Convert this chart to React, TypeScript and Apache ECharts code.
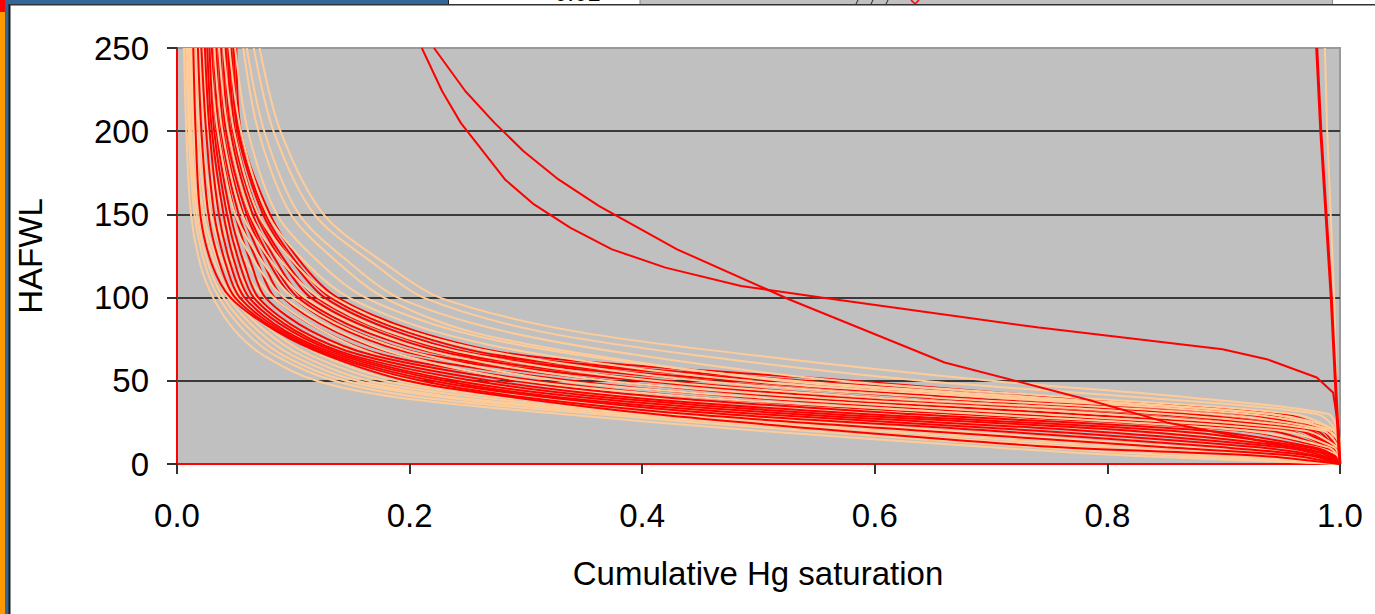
import React, { useEffect, useRef } from "react";
import * as echarts from "echarts";

// HAFWL levels shared by the regular capillary-pressure curves
const HAFWL_LEVELS = [250, 200, 150, 120, 100, 80, 65, 50, 40, 30, 20, 10, 5, 0];

// Cumulative Hg saturation of each red sample at the HAFWL levels
const RED_CURVES: number[][] = [
  [0.051, 0.055, 0.080, 0.108, 0.138, 0.205, 0.300, 0.580, 0.760, 0.950, 0.992, 0.998, 1.0, 1.0],
  [0.049, 0.053, 0.076, 0.104, 0.132, 0.195, 0.280, 0.540, 0.730, 0.930, 0.988, 0.997, 1.0, 1.0],
  [0.047, 0.052, 0.074, 0.101, 0.127, 0.187, 0.268, 0.515, 0.705, 0.915, 0.985, 0.996, 1.0, 1.0],
  [0.045, 0.050, 0.070, 0.095, 0.120, 0.178, 0.255, 0.480, 0.670, 0.890, 0.980, 0.995, 1.0, 1.0],
  [0.044, 0.048, 0.068, 0.092, 0.115, 0.171, 0.246, 0.455, 0.640, 0.870, 0.975, 0.994, 1.0, 1.0],
  [0.042, 0.046, 0.065, 0.087, 0.108, 0.160, 0.235, 0.420, 0.600, 0.840, 0.970, 0.993, 1.0, 1.0],
  [0.040, 0.044, 0.062, 0.083, 0.104, 0.152, 0.220, 0.400, 0.570, 0.810, 0.965, 0.992, 1.0, 1.0],
  [0.038, 0.042, 0.060, 0.080, 0.100, 0.146, 0.212, 0.372, 0.530, 0.770, 0.955, 0.990, 1.0, 1.0],
  [0.036, 0.040, 0.057, 0.075, 0.091, 0.135, 0.195, 0.340, 0.490, 0.720, 0.940, 0.988, 1.0, 1.0],
  [0.034, 0.038, 0.053, 0.070, 0.084, 0.125, 0.180, 0.310, 0.450, 0.670, 0.915, 0.985, 0.997, 1.0],
  [0.032, 0.036, 0.050, 0.064, 0.076, 0.115, 0.170, 0.290, 0.420, 0.630, 0.885, 0.978, 0.995, 1.0],
  [0.030, 0.034, 0.046, 0.058, 0.070, 0.107, 0.160, 0.270, 0.390, 0.590, 0.855, 0.972, 0.993, 1.0],
  [0.028, 0.032, 0.043, 0.054, 0.066, 0.102, 0.152, 0.255, 0.370, 0.560, 0.820, 0.962, 0.990, 1.0],
  [0.026, 0.030, 0.040, 0.050, 0.062, 0.098, 0.147, 0.240, 0.350, 0.530, 0.780, 0.950, 0.985, 1.0],
  [0.024, 0.028, 0.036, 0.046, 0.058, 0.093, 0.142, 0.230, 0.330, 0.500, 0.740, 0.930, 0.980, 1.0],
  [0.021, 0.025, 0.032, 0.042, 0.054, 0.090, 0.137, 0.220, 0.320, 0.470, 0.700, 0.900, 0.975, 1.0],
  [0.018, 0.021, 0.027, 0.037, 0.050, 0.087, 0.133, 0.210, 0.300, 0.440, 0.640, 0.850, 0.960, 1.0],
  [0.014, 0.016, 0.020, 0.030, 0.046, 0.085, 0.130, 0.198, 0.290, 0.410, 0.570, 0.760, 0.930, 1.0],
];

// Cumulative Hg saturation of each peach sample at the HAFWL levels
const PEACH_CURVES: number[][] = [
  [0.006, 0.008, 0.012, 0.020, 0.031, 0.050, 0.075, 0.120, 0.190, 0.330, 0.500, 0.700, 0.820, 1.0],
  [0.008, 0.010, 0.015, 0.024, 0.036, 0.058, 0.085, 0.135, 0.210, 0.360, 0.540, 0.740, 0.860, 1.0],
  [0.009, 0.011, 0.017, 0.027, 0.040, 0.064, 0.092, 0.145, 0.230, 0.380, 0.570, 0.780, 0.890, 1.0],
  [0.010, 0.012, 0.019, 0.030, 0.044, 0.070, 0.100, 0.155, 0.240, 0.400, 0.600, 0.810, 0.920, 1.0],
  [0.011, 0.014, 0.021, 0.033, 0.048, 0.076, 0.108, 0.165, 0.260, 0.420, 0.630, 0.840, 0.940, 1.0],
  [0.012, 0.015, 0.023, 0.036, 0.052, 0.082, 0.116, 0.178, 0.280, 0.450, 0.660, 0.870, 0.950, 1.0],
  [0.013, 0.017, 0.026, 0.040, 0.057, 0.090, 0.125, 0.190, 0.300, 0.480, 0.700, 0.900, 0.970, 1.0],
  [0.015, 0.019, 0.029, 0.044, 0.062, 0.097, 0.135, 0.205, 0.320, 0.520, 0.740, 0.920, 0.980, 1.0],
  [0.017, 0.021, 0.032, 0.049, 0.068, 0.105, 0.148, 0.225, 0.350, 0.560, 0.790, 0.950, 0.990, 1.0],
  [0.019, 0.024, 0.036, 0.055, 0.075, 0.115, 0.160, 0.245, 0.380, 0.600, 0.840, 0.970, 0.995, 1.0],
  [0.022, 0.027, 0.040, 0.061, 0.083, 0.125, 0.175, 0.270, 0.410, 0.640, 0.880, 0.980, 0.998, 1.0],
  [0.025, 0.031, 0.045, 0.068, 0.092, 0.138, 0.195, 0.300, 0.450, 0.690, 0.920, 0.990, 0.998, 1.0],
  [0.028, 0.035, 0.050, 0.075, 0.100, 0.150, 0.215, 0.330, 0.500, 0.740, 0.950, 0.995, 0.999, 1.0],
  [0.032, 0.039, 0.056, 0.083, 0.110, 0.165, 0.235, 0.370, 0.550, 0.800, 0.970, 0.998, 1.0, 1.0],
  [0.036, 0.044, 0.063, 0.092, 0.122, 0.180, 0.260, 0.410, 0.600, 0.850, 0.985, 0.999, 1.0, 1.0],
  [0.040, 0.049, 0.070, 0.102, 0.135, 0.200, 0.290, 0.450, 0.650, 0.890, 0.990, 1.0, 1.0, 1.0],
  [0.045, 0.055, 0.078, 0.112, 0.148, 0.220, 0.320, 0.490, 0.700, 0.920, 0.995, 1.0, 1.0, 1.0],
  [0.050, 0.061, 0.086, 0.124, 0.162, 0.240, 0.350, 0.530, 0.740, 0.940, 0.997, 1.0, 1.0, 1.0],
  [0.057, 0.070, 0.098, 0.140, 0.178, 0.250, 0.360, 0.520, 0.720, 0.940, 0.990, 1.0, 1.0, 1.0],
  [0.060, 0.075, 0.105, 0.150, 0.190, 0.280, 0.400, 0.570, 0.770, 0.960, 0.995, 1.0, 1.0, 1.0],
  [0.066, 0.083, 0.118, 0.170, 0.212, 0.310, 0.450, 0.640, 0.830, 0.980, 0.997, 1.0, 1.0, 1.0],
  [0.071, 0.089, 0.126, 0.180, 0.226, 0.340, 0.500, 0.700, 0.870, 0.990, 0.998, 1.0, 1.0, 1.0],
];

// Two red samples with a high entry pressure
const RED_FLAT_SAT = [0.2105, 0.228, 0.244, 0.282, 0.307, 0.338, 0.374, 0.42, 0.485, 0.554, 0.741, 0.899, 0.937, 0.98, 0.994, 0.999, 1.0];
const RED_FLAT_HAFWL = [250, 224, 205, 171, 156, 142, 129, 118, 107, 100, 82, 69, 63, 52, 43, 20, 0];
const RED_DIAG_SAT = [0.221, 0.248, 0.273, 0.298, 0.328, 0.363, 0.43, 0.507, 0.526, 0.66, 0.784, 0.851, 0.985, 1.0];
const RED_DIAG_HAFWL = [250, 224, 205, 188, 171, 155, 129, 105, 99, 61, 38.5, 25, 6.6, 0];

// Tight samples near full saturation
const RED_TIGHT_SAT = [0.980, 0.9835, 0.988, 0.9925, 0.996, 0.999, 1.0];
const RED_TIGHT_HAFWL = [250, 200, 150, 100, 50, 10, 0];
const PEACH_TIGHT_SAT = [0.987, 0.989, 0.992, 0.995, 0.997, 1.0];
const PEACH_TIGHT_HAFWL = [250, 200, 150, 100, 40, 0];

const X_TICK_LABELS = ["0.0", "0.2", "0.4", "0.6", "0.8", "1.0"];
const Y_TICK_LABELS = ["0", "50", "100", "150", "200", "250"];

const RED = "#FF0000";
const PEACH = "#FFCC99";
const FONT = "'Liberation Sans', Arial, sans-serif";

const pairs = (xs: number[], ys: number[]) => xs.map((x, i) => [x, ys[i]]);

export default function App() {
  const ref = useRef<HTMLDivElement>(null);
  useEffect(() => {
    if (!ref.current) return;
    const chart = echarts.init(ref.current, undefined, { renderer: "svg" });
    const line = (data: number[][], color: string, width: number, smooth: number) => ({
      type: "line",
      data,
      symbol: "none",
      showSymbol: false,
      silent: true,
      clip: true,
      smooth,
      lineStyle: { color, width },
      itemStyle: { color },
    });
    const series: any[] = [];
    const n = Math.max(RED_CURVES.length, PEACH_CURVES.length);
    for (let i = 0; i < n; i++) {
      if (PEACH_CURVES[i]) series.push(line(pairs(PEACH_CURVES[i], HAFWL_LEVELS), PEACH, 2, 0.3));
      if (RED_CURVES[i]) series.push(line(pairs(RED_CURVES[i], HAFWL_LEVELS), RED, 2, 0.3));
    }
    series.push(line(pairs(PEACH_TIGHT_SAT, PEACH_TIGHT_HAFWL), PEACH, 2, 0));
    series.push(line(pairs(RED_TIGHT_SAT, RED_TIGHT_HAFWL), RED, 3, 0));
    series.push(line(pairs(RED_FLAT_SAT, RED_FLAT_HAFWL), RED, 2, 0));
    series.push(line(pairs(RED_DIAG_SAT, RED_DIAG_HAFWL), RED, 2, 0));

    chart.setOption({
      animation: false,
      backgroundColor: "#ffffff",
      grid: {
        left: 177,
        right: 35,
        top: 48,
        bottom: 150,
        show: true,
        backgroundColor: "#C0C0C0",
        borderColor: "#999999",
        borderWidth: 2,
      },
      xAxis: {
        type: "value",
        min: 0,
        max: 1,
        interval: 0.2,
        axisLine: { show: true, onZero: false, lineStyle: { color: RED, width: 2 } },
        axisTick: { show: true, length: 10, lineStyle: { color: "#333333", width: 2 } },
        axisLabel: {
          fontSize: 33,
          fontFamily: FONT,
          color: "#000",
          margin: 35,
          formatter: (v: number) => X_TICK_LABELS[Math.round(v / 0.2)] ?? "",
        },
        splitLine: { show: false },
      },
      yAxis: {
        type: "value",
        min: 0,
        max: 250,
        interval: 50,
        axisLine: { show: true, onZero: false, lineStyle: { color: RED, width: 2 } },
        axisTick: { show: true, length: 10, lineStyle: { color: "#333333", width: 2 } },
        axisLabel: {
          fontSize: 33,
          fontFamily: FONT,
          color: "#000",
          margin: 28,
          formatter: (v: number) => Y_TICK_LABELS[Math.round(v / 50)] ?? "",
        },
        splitLine: {
          show: true,
          lineStyle: { color: ["#333333", "#3a3a3a", "#3a3a3a", "#3a3a3a", "#3a3a3a", "#999999"], width: 2 },
        },
      },
      graphic: [
        { type: "rect", shape: { x: 0, y: 0, width: 5, height: 614 }, style: { fill: "#FF9900" }, z: 100 },
        { type: "rect", shape: { x: 0, y: 0, width: 5, height: 12 }, style: { fill: "#FF0000" }, z: 101 },
        { type: "rect", shape: { x: 5, y: 0, width: 4, height: 614 }, style: { fill: "#336699" }, z: 100 },
        { type: "rect", shape: { x: 8.5, y: 4, width: 2, height: 610 }, style: { fill: "#1a1a1a" }, z: 101 },
        { type: "rect", shape: { x: 9, y: 0, width: 439, height: 4 }, style: { fill: "#336699" }, z: 100 },
        { type: "rect", shape: { x: 448, y: 0, width: 192, height: 4 }, style: { fill: "#ffffff" }, z: 100 },
        { type: "rect", shape: { x: 448, y: 0, width: 1, height: 4 }, style: { fill: "#222222" }, z: 102 },
        { type: "rect", shape: { x: 640, y: 0, width: 692, height: 4 }, style: { fill: "#C0C0C0" }, z: 100 },
        { type: "rect", shape: { x: 639.5, y: 0, width: 1, height: 4 }, style: { fill: "#888888" }, z: 102 },
        { type: "rect", shape: { x: 1332, y: 0, width: 1, height: 4 }, style: { fill: "#888888" }, z: 102 },
        {
          type: "text",
          x: 554,
          y: 4,
          z: 101,
          style: { text: "0.01", font: `24px ${FONT}`, fill: "#000", textAlign: "left", textVerticalAlign: "bottom" },
        },
        { type: "line", shape: { x1: 856, y1: 4, x2: 858, y2: 0 }, style: { stroke: "#222", lineWidth: 1 }, z: 101 },
        { type: "line", shape: { x1: 871, y1: 4, x2: 873, y2: 0 }, style: { stroke: "#222", lineWidth: 1 }, z: 101 },
        { type: "line", shape: { x1: 886, y1: 4, x2: 888, y2: 0 }, style: { stroke: "#222", lineWidth: 1 }, z: 101 },
        { type: "polyline", shape: { points: [[911, 0], [915, 4], [919, 0]] }, style: { stroke: "#FF0000", lineWidth: 1.5, fill: "none" }, z: 101 },
        { type: "rect", shape: { x: 8.5, y: 4, width: 1367, height: 1.5 }, style: { fill: "#333333" }, z: 103 },
        {
          type: "text",
          x: 758,
          y: 573,
          z: 50,
          style: { text: "Cumulative Hg saturation", font: `33px ${FONT}`, fill: "#000", textAlign: "center", textVerticalAlign: "middle" },
        },
        {
          type: "text",
          x: 30,
          y: 256,
          rotation: Math.PI / 2,
          z: 50,
          style: { text: "HAFWL", font: `33px ${FONT}`, fill: "#000", textAlign: "center", textVerticalAlign: "middle" },
        },
      ],
      series,
    });
    return () => chart.dispose();
  }, []);
  return (
    <div
      ref={ref}
      style={{ position: "fixed", left: 0, top: 0, width: 1375, height: 614, background: "#fff" }}
    />
  );
}
